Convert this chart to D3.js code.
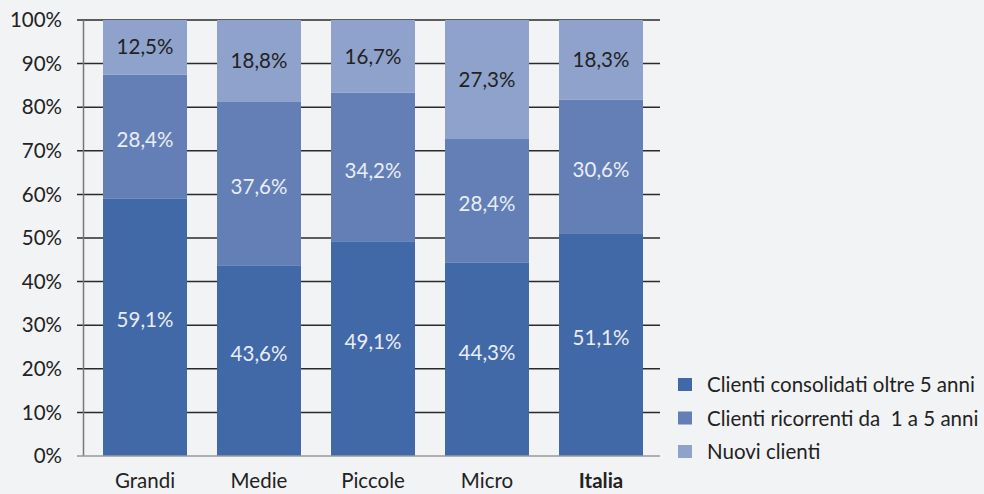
<!DOCTYPE html>
<html><head><meta charset="utf-8">
<script src="https://cdn.jsdelivr.net/npm/d3@7"></script>
<style>
html,body{margin:0;padding:0;background:#f2f3f5;}
svg{display:block;font-family:Lato,"Noto Sans",sans-serif;}
text{white-space:pre;}
</style></head>
<body>
<svg id="c" width="984" height="494"></svg>
<script>
const categories = ["Grandi","Medie","Piccole","Micro","Italia"];
const seriesNames = ["Clienti consolidati oltre 5 anni","Clienti ricorrenti da  1 a 5 anni","Nuovi clienti"];
const consolidati = [59.1,43.6,49.1,44.3,51.1];
const ricorrenti = [28.4,37.6,34.2,28.4,30.6];
const nuovi = [12.5,18.8,16.7,27.3,18.3];
const yTicks = [0,10,20,30,40,50,60,70,80,90,100];

const colors = ["#4169a8","#647fb5","#8fa2cc"];
const labelColors = ["#e9edf5","#e9edf5","#222222"];
const labelOffsets = [-7,3,0];

const svg = d3.select("#c");
const x = d3.scaleBand().domain(categories).range([88,658]).paddingInner(30/114).paddingOuter(15/114);
const y = d3.scaleLinear().domain([0,100]).range([456,20]);
const FS = 20.5;

// gridlines
svg.append("g").selectAll("line").data(yTicks.filter(d=>d>0)).join("line")
  .attr("x1",77).attr("x2",660).attr("y1",d=>y(d)).attr("y2",d=>y(d))
  .attr("stroke","#2a2a2a").attr("stroke-width",1.5);

const table = categories.map((c,i)=>({cat:c, a:consolidati[i], b:ricorrenti[i], n:nuovi[i]}));
const stack = d3.stack().keys(["a","b","n"])(table);

const g = svg.append("g");
stack.forEach((layer,li)=>{
  g.append("g").selectAll("rect").data(layer).join("rect")
    .attr("x",d=>x(d.data.cat)).attr("width",x.bandwidth())
    .attr("y",d=>y(d[1])).attr("height",d=>y(d[0])-y(d[1]))
    .attr("fill",colors[li]);
});
stack.forEach((layer,li)=>{
  g.append("g").selectAll("text").data(layer).join("text")
    .attr("x",d=>x(d.data.cat)+x.bandwidth()/2)
    .attr("y",d=>(y(d[0])+y(d[1]))/2+labelOffsets[li])
    .attr("dy","0.35em").attr("text-anchor","middle")
    .attr("font-size",FS).attr("fill",labelColors[li])
    .text(d=>d3.format(".1f")(d[1]-d[0]).replace(".",",")+"%");
});

// y axis
svg.append("line").attr("x1",83.5).attr("x2",83.5).attr("y1",20).attr("y2",456)
  .attr("stroke","#777").attr("stroke-width",1.5);
svg.append("line").attr("x1",77).attr("x2",660).attr("y1",456).attr("y2",456)
  .attr("stroke","#999").attr("stroke-width",1.5);
svg.append("g").selectAll("text").data(yTicks).join("text")
  .attr("x",62).attr("y",d=>y(d)).attr("dy","0.35em").attr("text-anchor","end")
  .attr("font-size",FS).attr("fill","#222").text(d=>d+"%");

// x labels
svg.append("g").selectAll("text").data(categories).join("text")
  .attr("x",d=>x(d)+x.bandwidth()/2).attr("y",488).attr("text-anchor","middle")
  .attr("font-size",FS).attr("fill","#222")
  .attr("font-weight",d=>d==="Italia"?"bold":"normal").text(d=>d);

// legend
const lg = svg.append("g").selectAll("g").data(seriesNames).join("g")
  .attr("transform",(d,i)=>`translate(678,${385+i*33.5})`);
lg.append("rect").attr("x",0).attr("y",-7).attr("width",14).attr("height",13).attr("fill",(d,i)=>colors[i]);
lg.append("text").attr("x",29).attr("y",0).attr("dy","0.35em").attr("font-size",FS).attr("fill","#222").text(d=>d);
</script>
</body></html>
